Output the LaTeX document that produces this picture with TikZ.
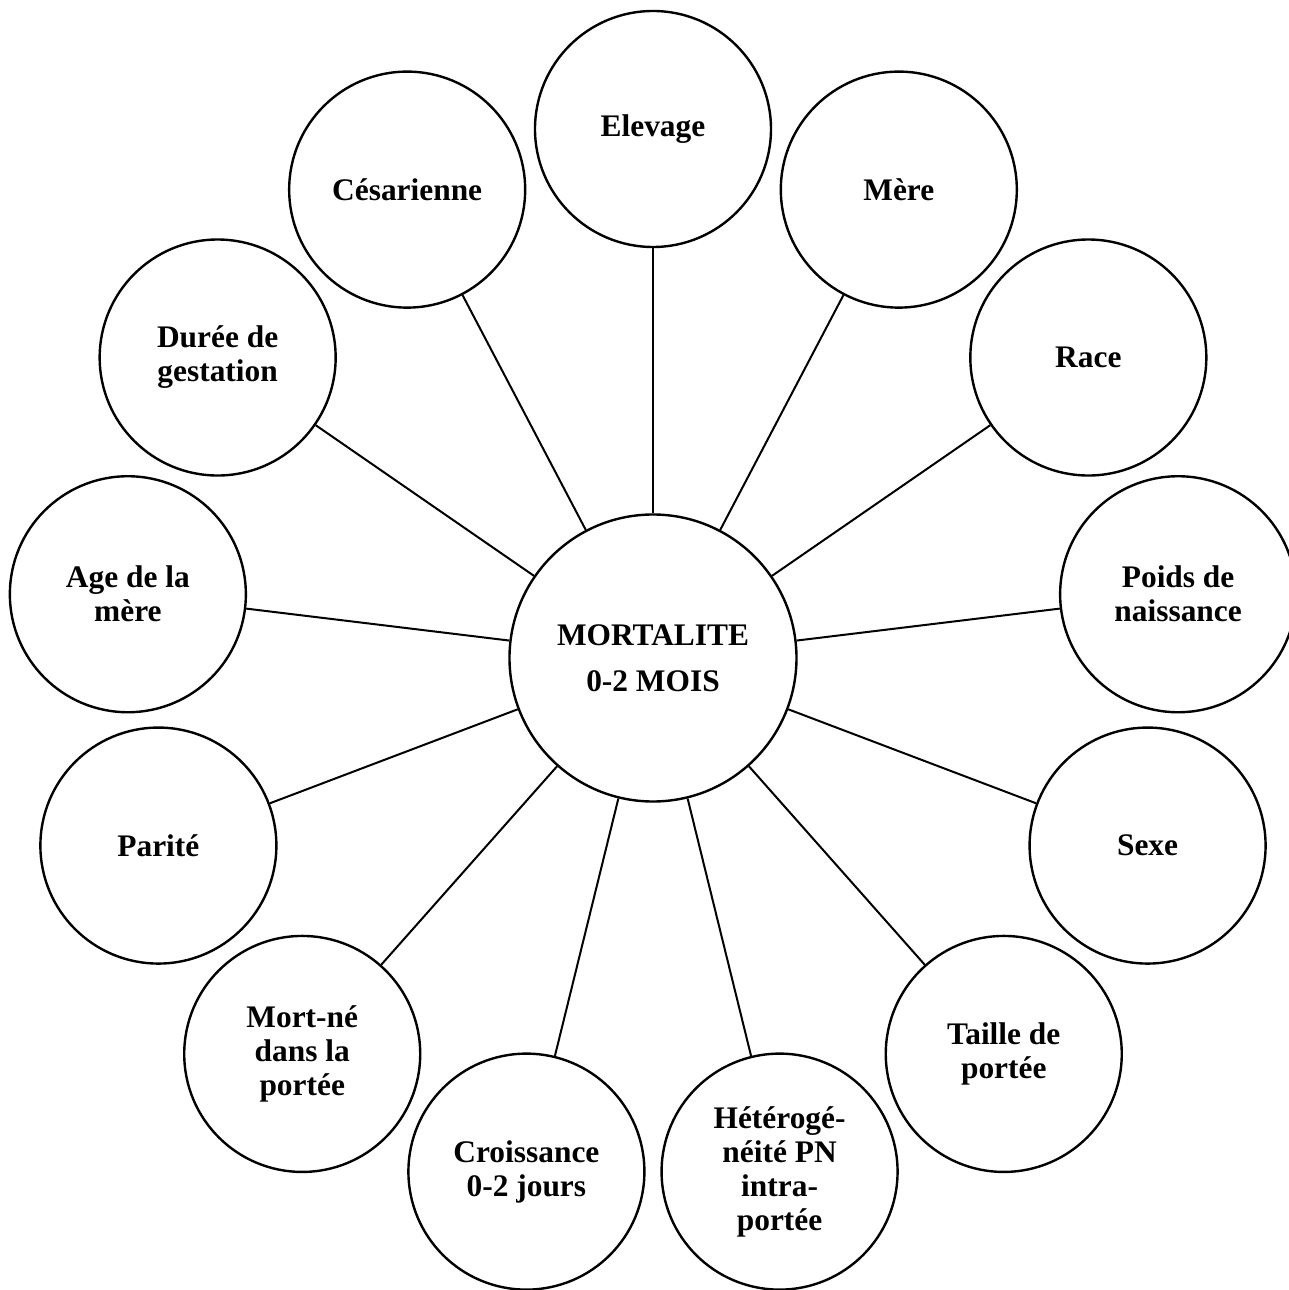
\documentclass[tikz,border=0pt]{standalone}
\usepackage{fontspec}
\setmainfont{Liberation Serif}
\begin{document}
\begin{tikzpicture}[x=0.5pt,y=0.5pt,
  factor/.style={circle,draw,line width=1.2pt,minimum size=118pt,inner sep=0pt,
    align=center,font=\fontsize{15.7}{17}\selectfont\bfseries},
  hub/.style={circle,draw,line width=1.2pt,minimum size=143.5pt,inner sep=0pt,
    align=center,font=\fontsize{15.7}{23}\selectfont\bfseries},
  link/.style={line width=1pt}]
\useasboundingbox (-653,-632) rectangle (636,658);
\node[hub] (c) at (0,0) {MORTALITE\\0-2 MOIS};
\def\ang{27.6923}
\node[factor] (n0) at ({90-0*\ang}:529) {Elevage};
\node[factor] (n1) at ({90-1*\ang}:529) {Mère};
\node[factor] (n2) at ({90-2*\ang}:529) {Race};
\node[factor] (n3) at ({90-3*\ang}:529) {Poids de\\naissance};
\node[factor] (n4) at ({90-4*\ang}:529) {Sexe};
\node[factor] (n5) at ({90-5*\ang}:529) {Taille de\\portée};
\node[factor] (n6) at ({90-6*\ang}:529) {Hétérogé-\\néité PN\\intra-\\portée};
\node[factor] (n7) at ({90-7*\ang}:529) {Croissance\\0-2 jours};
\node[factor] (n8) at ({90-8*\ang}:529) {Mort-né\\dans la\\portée};
\node[factor] (n9) at ({90-9*\ang}:529) {Parité};
\node[factor] (n10) at ({90-10*\ang}:529) {Age de la\\mère};
\node[factor] (n11) at ({90-11*\ang}:529) {Durée de\\gestation};
\node[factor] (n12) at ({90-12*\ang}:529) {Césarienne};
\foreach \i in {0,...,12}{\draw[link] (c) -- (n\i);}
\end{tikzpicture}
\end{document}
